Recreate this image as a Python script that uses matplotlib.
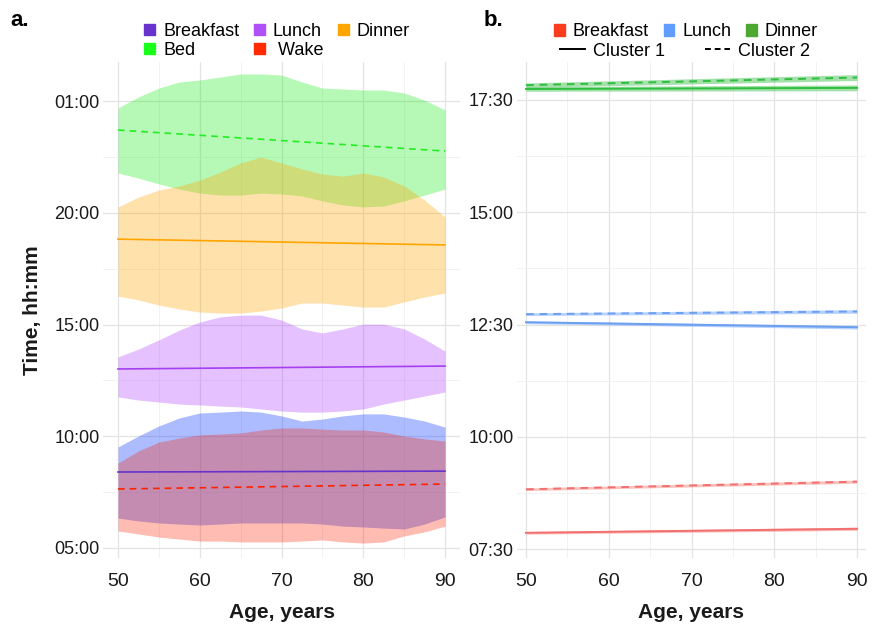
import matplotlib.pyplot as plt
from matplotlib.patches import Patch
from matplotlib.lines import Line2D
from matplotlib.ticker import FixedLocator, FuncFormatter

plt.rcParams['font.family'] = ['Liberation Sans', 'DejaVu Sans']

# ---- panel a: spread of meal / sleep times by age (hours, >24 = after midnight)
ages = [50, 52.5, 55, 57.5, 60, 62.5, 65, 67.5, 70, 72.5, 75, 77.5, 80, 82.5, 85, 87.5, 90]

bed_hi = [24.69, 25.18, 25.58, 25.85, 25.94, 26.07, 26.21, 26.21, 26.16, 25.85, 25.58, 25.54, 25.49, 25.49, 25.36, 25.04, 24.60]
bed_lo = [21.78, 21.55, 21.29, 21.06, 20.88, 20.79, 20.79, 20.88, 20.84, 20.75, 20.53, 20.35, 20.26, 20.30, 20.53, 20.79, 21.06]
dinner_hi = [20.26, 20.70, 21.02, 21.20, 21.46, 21.82, 22.23, 22.49, 22.23, 21.96, 21.73, 21.64, 21.78, 21.60, 21.20, 20.57, 19.81]
dinner_lo = [16.27, 16.10, 15.87, 15.69, 15.56, 15.51, 15.51, 15.60, 15.74, 15.96, 15.96, 15.87, 15.78, 15.78, 16.01, 16.23, 16.41]
lunch_hi = [13.55, 13.90, 14.31, 14.75, 15.11, 15.34, 15.42, 15.42, 15.20, 14.80, 14.62, 14.80, 15.02, 15.02, 14.80, 14.35, 13.81]
lunch_lo = [11.76, 11.62, 11.53, 11.44, 11.40, 11.35, 11.31, 11.22, 11.13, 11.08, 11.08, 11.13, 11.22, 11.44, 11.62, 11.80, 11.98]
breakfast_hi = [9.52, 10.01, 10.46, 10.82, 11.04, 11.08, 11.13, 11.08, 10.91, 10.68, 10.77, 10.91, 11.00, 11.00, 10.86, 10.68, 10.41]
breakfast_lo = [6.34, 6.21, 6.12, 6.07, 6.03, 6.07, 6.12, 6.12, 6.12, 6.12, 6.07, 5.98, 5.94, 5.89, 5.85, 6.07, 6.39]
wake_hi = [8.80, 9.34, 9.74, 9.92, 10.06, 10.10, 10.15, 10.28, 10.37, 10.37, 10.32, 10.28, 10.28, 10.19, 10.01, 9.88, 9.79]
wake_lo = [5.76, 5.63, 5.49, 5.40, 5.31, 5.31, 5.27, 5.27, 5.27, 5.31, 5.36, 5.27, 5.22, 5.27, 5.54, 5.72, 5.98]

fit_ages = [50, 90]
bed_fit = [23.70, 22.76]
dinner_fit = [18.82, 18.56]
lunch_fit = [13.01, 13.14]
breakfast_fit = [8.40, 8.44]
wake_fit = [7.64, 7.86]

# ---- panel b: fitted meal times per cluster, with CI half-width
b_ages = [50, 90]
b_breakfast_c1 = [7.86, 7.95]
b_breakfast_c2 = [8.83, 9.00]
b_lunch_c1 = [12.55, 12.44]
b_lunch_c2 = [12.73, 12.79]
b_dinner_c1 = [17.745, 17.77]
b_dinner_c2 = [17.83, 18.00]
b_breakfast_ci = [0.03, 0.035]
b_lunch_ci = [0.03, 0.04]
b_dinner_ci = [0.05, 0.065]


def hhmm(v, pos=None):
    v = v % 24
    h = int(v)
    m = int(round((v - h) * 60))
    return f"{h:02d}:{m:02d}"


def style_axes(ax, major, minor):
    ax.set_facecolor('white')
    for s in ax.spines.values():
        s.set_visible(False)
    ax.yaxis.set_major_locator(FixedLocator(major))
    ax.yaxis.set_minor_locator(FixedLocator(minor))
    ax.xaxis.set_major_locator(FixedLocator([50, 60, 70, 80, 90]))
    ax.xaxis.set_minor_locator(FixedLocator([55, 65, 75, 85]))
    ax.yaxis.set_major_formatter(FuncFormatter(hhmm))
    ax.grid(True, which='major', color='#e3e3e3', lw=0.9)
    ax.grid(True, which='minor', color='#f0f0f0', lw=0.6)
    ax.set_axisbelow(True)
    ax.tick_params(which='both', length=0)
    ax.tick_params(axis='y', labelsize=13, pad=2.5, labelcolor='#1a1a1a')
    ax.tick_params(axis='x', labelsize=14, pad=11, labelcolor='#1a1a1a')


fig = plt.figure(figsize=(8.72, 6.24), dpi=100)
W, H = 872, 624
ax1 = fig.add_axes([103 / W, 1 - 558 / H, 357 / W, 496 / H])
ax2 = fig.add_axes([517 / W, 1 - 558 / H, 349 / W, 496 / H])

# panel a
style_axes(ax1, [5, 10, 15, 20, 25], [7.5, 12.5, 17.5, 22.5])
ax1.fill_between(ages, bed_lo, bed_hi, color='#22ee22', alpha=0.33, lw=0)
ax1.fill_between(ages, dinner_lo, dinner_hi, color='#ffa500', alpha=0.33, lw=0)
ax1.fill_between(ages, lunch_lo, lunch_hi, color='#b044ff', alpha=0.33, lw=0)
ax1.fill_between(ages, breakfast_lo, breakfast_hi, color='#3355ff', alpha=0.4, lw=0)
ax1.fill_between(ages, wake_lo, wake_hi, color='#ff2200', alpha=0.3, lw=0)
ax1.plot(fit_ages, bed_fit, color='#22ee22', lw=1.2, dashes=(4, 3))
ax1.plot(fit_ages, dinner_fit, color='#ffa500', lw=1.2)
ax1.plot(fit_ages, lunch_fit, color='#a53ff0', lw=1.2)
ax1.plot(fit_ages, breakfast_fit, color='#6633cc', lw=1.2)
ax1.plot(fit_ages, wake_fit, color='#ff2200', lw=1.2, dashes=(4, 3))
ax1.set_xlim(50 - 15 / 8.175, 90 + 15 / 8.175)
ax1.set_ylim(5 - 10 / 22.35, 5 + 486 / 22.35)

# panel b
style_axes(ax2, [7.5, 10, 12.5, 15, 17.5], [8.75, 11.25, 13.75, 16.25])
for c1, c2, ci, col, fcol in [
    (b_breakfast_c1, b_breakfast_c2, b_breakfast_ci, '#f26f6f', '#f8766d'),
    (b_lunch_c1, b_lunch_c2, b_lunch_ci, '#6b9ff0', '#619cff'),
    (b_dinner_c1, b_dinner_c2, b_dinner_ci, '#2fbf3f', '#33bb44'),
]:
    for fit, ls in [(c1, None), (c2, (4, 3))]:
        lo = [f - e for f, e in zip(fit, ci)]
        hi = [f + e for f, e in zip(fit, ci)]
        ax2.fill_between(b_ages, lo, hi, color=fcol, alpha=0.45, lw=0)
        if ls:
            ax2.plot(b_ages, fit, color=col, lw=1.4, dashes=ls)
        else:
            ax2.plot(b_ages, fit, color=col, lw=1.4)
ax2.set_xlim(50 - 9 / 8.275, 90 + 9 / 8.275)
ax2.set_ylim(7.5 - 9 / 44.9, 7.5 + 487 / 44.9)

# axis titles
for ax in (ax1, ax2):
    ax.set_xlabel('Age, years', fontsize=15, fontweight='bold', color='#1a1a1a')
    ax.xaxis.set_label_coords(0.5, -(612 - 558) / 496)
    ax.xaxis.label.set_va('center')
ax1.set_ylabel('Time, hh:mm', fontsize=15, fontweight='bold', color='#1a1a1a')
ax1.yaxis.set_label_coords(-(103 - 33) / 357, 0.5)
ax1.yaxis.label.set_va('center')

fig.text(10 / W, 1 - 20 / H, 'a.', fontsize=16, fontweight='bold', va='center')
fig.text(484 / W, 1 - 20 / H, 'b.', fontsize=16, fontweight='bold', va='center')

# legends
leg_kw = dict(frameon=False, fontsize=13, handlelength=0.6, handleheight=0.6,
              handletextpad=0.45, columnspacing=0.8, labelspacing=0.12, borderpad=0,
              borderaxespad=0, loc='center')
a_handles = [Patch(color='#6633cc'), Patch(color='#1aff1a'), Patch(color='#b050f8'),
             Patch(color='#ff2a00'), Patch(color='#ffa500')]
a_labels = ['Breakfast', 'Bed', 'Lunch', ' Wake', 'Dinner']
fig.legend(a_handles, a_labels, ncol=3, bbox_to_anchor=(277 / W, 1 - 41 / H), **leg_kw)

b_handles = [Patch(color='#f93c1e'), Patch(color='#619cff'), Patch(color='#4da832')]
fig.legend(b_handles, ['Breakfast', 'Lunch', 'Dinner'], ncol=3,
           bbox_to_anchor=(686 / W, 1 - 32 / H), **leg_kw)
line_kw = dict(leg_kw)
line_kw.update(handlelength=1.4, columnspacing=2.2)
c_handles = [Line2D([], [], color='black', lw=1.4),
             Line2D([], [], color='black', lw=1.4, dashes=(3, 2))]
fig.legend(c_handles, ['Cluster 1', 'Cluster 2'], ncol=2,
           bbox_to_anchor=(685 / W, 1 - 51 / H), **line_kw)

fig.savefig('out.png', dpi=100, facecolor='white')
